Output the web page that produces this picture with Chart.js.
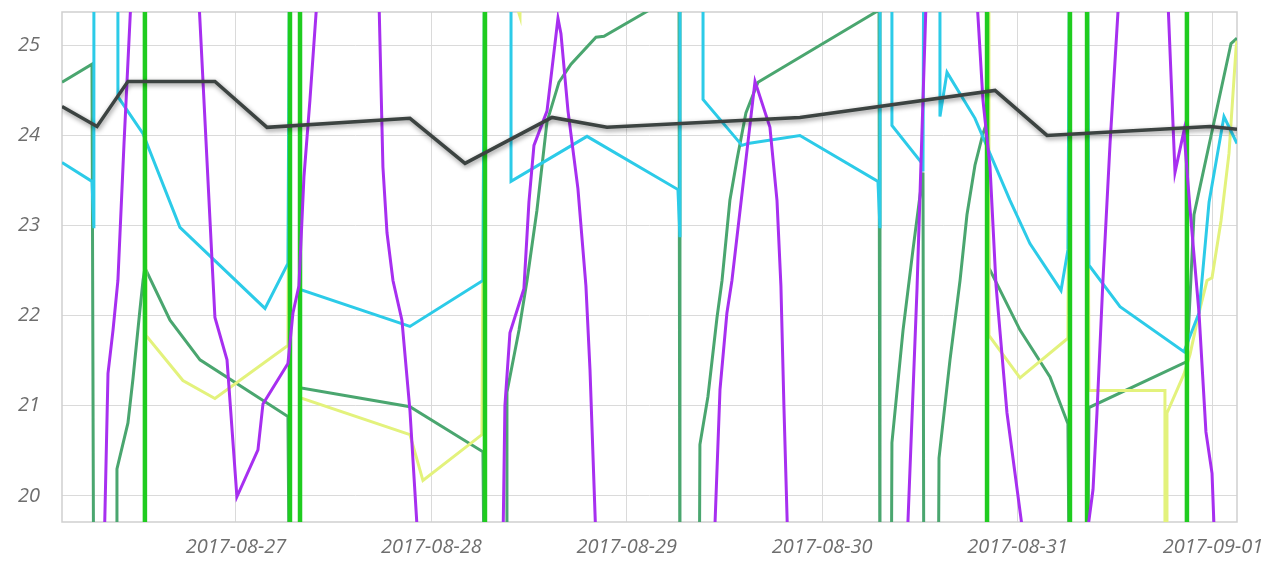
<!DOCTYPE html>
<html>
<head>
<meta charset="utf-8">
<script src="https://cdn.jsdelivr.net/npm/chart.js@4.4.0/dist/chart.umd.min.js"></script>
<style>
  html, body { margin: 0; padding: 0; background: #fff; }
  #wrap { width: 1280px; height: 565px; }
</style>
</head>
<body>
<div id="wrap"><canvas id="chart" width="1280" height="565"></canvas></div>
<script>
// ===== 時間範圍 / 軸刻度 =====
const xStart = '08-26 02:38';
const xEnd   = '09-01 02:57';
const xTickDays = ['08-27 00:00','08-28 00:00','08-29 00:00','08-30 00:00','08-31 00:00','09-01 00:00'];
const yMin = 19.71;
const yMax = 25.37;

// ===== 灰線（主溫度）=====
const grayTimes  = ['08-26 02:38','08-26 06:56','08-26 10:44','08-26 21:25','08-27 03:49','08-27 21:22','08-28 04:08','08-28 14:49','08-28 21:34','08-29 21:16','08-30 21:14','08-31 03:37','08-31 23:38','09-01 02:57'];
const grayValues = [24.32,24.10,24.60,24.60,24.09,24.19,23.69,24.20,24.09,24.20,24.50,24.00,24.10,24.07];

// ===== 青色 =====
const cyanTimes  = ['08-26 02:38','08-26 06:19','08-26 06:33','08-26 06:33','08-26 09:30','08-26 09:30','08-26 12:35','08-26 17:07','08-27 03:34','08-27 06:23','08-27 06:38','08-27 07:52','08-27 07:52','08-27 21:22','08-28 06:20','08-28 06:35','08-28 09:47','08-28 09:47','08-28 19:07','08-29 06:17','08-29 06:32','08-29 06:32','08-29 09:22','08-29 09:22','08-29 14:09','08-29 14:53','08-29 21:16','08-30 06:51','08-30 07:06','08-30 07:06','08-30 08:34','08-30 08:34','08-30 12:16','08-30 12:23','08-30 12:30','08-30 14:28','08-30 14:28','08-30 15:20','08-30 18:46','08-30 23:04','08-31 01:31','08-31 05:20','08-31 06:11','08-31 06:26','08-31 08:32','08-31 08:46','08-31 12:35','08-31 20:26','08-31 22:17','08-31 23:31','09-01 01:21','09-01 02:57'];
const cyanValues = [23.70,23.49,22.97,27,27,24.43,24.02,22.98,22.08,22.58,27,27,22.29,21.88,22.39,27,27,23.49,23.99,23.40,22.87,27,27,24.40,23.89,23.91,24.00,23.49,22.97,27,27,24.11,23.69,23.60,27,27,24.21,24.70,24.19,23.28,22.80,22.28,22.73,27,27,22.56,22.10,21.60,22.03,23.26,24.21,23.91];

// ===== 深綠 =====
const greenTimes  = ['08-26 02:38','08-26 06:19','08-26 06:33','08-26 09:23','08-26 09:23','08-26 10:44','08-26 11:21','08-26 12:12','08-26 12:35','08-26 12:49','08-26 15:54','08-26 19:35','08-27 06:23','08-27 06:38','08-27 07:52','08-27 07:52','08-27 21:22','08-28 06:20','08-28 06:35','08-28 09:17','08-28 09:17','08-28 10:46','08-28 11:45','08-28 12:58','08-28 14:12','08-28 15:40','08-28 17:09','08-28 20:13','08-28 21:12','08-29 01:59','08-29 06:25','08-29 06:32','08-29 08:52','08-29 08:59','08-29 09:58','08-29 11:05','08-29 11:42','08-29 12:40','08-29 13:32','08-29 14:38','08-29 16:07','08-30 06:14','08-30 06:59','08-30 07:06','08-30 08:27','08-30 08:34','08-30 09:56','08-30 11:09','08-30 12:23','08-30 12:30','08-30 14:13','08-30 14:21','08-30 15:42','08-30 16:56','08-30 17:47','08-30 18:46','08-30 19:45','08-30 20:15','08-30 20:29','08-31 00:18','08-31 03:59','08-31 06:11','08-31 06:26','08-31 08:32','08-31 08:46','08-31 20:48','08-31 21:40','09-01 02:13','09-01 02:57'];
const greenValues = [24.59,24.79,18,18,20.30,20.81,21.30,22.06,22.39,22.53,21.95,21.51,20.88,18,18,21.20,20.99,20.49,18,18,21.15,21.84,22.39,23.17,24.15,24.59,24.79,25.09,25.10,25.35,25.59,18,18,20.57,21.10,21.98,22.39,23.28,23.73,24.25,24.59,25.35,25.39,18,18,20.59,21.84,22.73,23.59,18,18,20.42,21.51,22.39,23.12,23.67,24.02,24.15,22.53,21.84,21.32,20.80,18,18,20.98,21.49,23.12,25.02,25.08];

// ===== 亮綠（跳動，超出範圍）=====
const limeTimes  = ['08-26 02:38','08-26 12:49','08-26 12:49','08-27 06:38','08-27 06:38','08-27 07:52','08-27 07:52','08-28 06:35','08-28 06:35','08-30 20:15','08-30 20:15','08-31 06:26','08-31 06:26','08-31 08:32','08-31 08:32','08-31 20:48','08-31 20:48','09-01 02:57'];
const limeValues = [18,18,27,27,18,18,27,27,18,18,27,27,18,18,27,27,18,18];

// ===== 紫色 =====
const purpleTimes  = ['08-26 02:38','08-26 07:47','08-26 08:17','08-26 08:54','08-26 09:30','08-26 10:15','08-26 11:06','08-26 15:17','08-26 19:27','08-26 21:11','08-26 21:25','08-26 22:54','08-27 00:07','08-27 02:42','08-27 03:19','08-27 06:23','08-27 07:00','08-27 07:44','08-27 08:21','08-27 09:05','08-27 09:57','08-27 14:00','08-27 17:34','08-27 18:03','08-27 18:33','08-27 19:17','08-27 20:23','08-27 21:22','08-27 22:21','08-28 03:30','08-28 08:47','08-28 09:02','08-28 09:39','08-28 11:22','08-28 11:59','08-28 12:36','08-28 14:12','08-28 15:33','08-28 15:55','08-28 16:47','08-28 18:00','08-28 18:59','08-28 19:29','08-28 20:13','08-29 02:51','08-29 10:43','08-29 11:27','08-29 12:18','08-29 12:55','08-29 15:45','08-29 17:35','08-29 18:27','08-29 18:56','08-29 19:18','08-29 19:48','08-30 03:24','08-30 10:24','08-30 11:39','08-30 12:45','08-30 15:42','08-30 19:01','08-30 19:45','08-30 20:37','08-30 21:21','08-30 22:42','08-31 00:47','08-31 04:36','08-31 08:17','08-31 09:16','08-31 09:45','08-31 10:29','08-31 11:21','08-31 12:27','08-31 15:38','08-31 18:28','08-31 19:20','08-31 20:26','08-31 21:11','08-31 22:17','08-31 23:08','08-31 23:53','09-01 00:14','09-01 02:57'];
const purpleValues = [18,19.30,21.36,21.84,22.39,23.91,25.50,27,25.50,22.39,21.98,21.51,19.99,20.51,21.02,21.47,22.03,22.33,23.54,24.39,25.50,27,25.50,23.65,22.92,22.39,21.95,20.95,19.50,18,19.40,21.00,21.81,22.30,23.26,23.89,24.27,25.30,25.13,24.27,23.41,22.33,21.40,19.50,18,19.40,21.18,22.03,22.39,24.60,24.09,23.28,22.33,21.00,19.40,18,19.40,22.30,25.45,27,25.50,24.39,23.65,22.34,20.92,19.50,18,19.40,20.07,20.92,22.39,23.90,25.55,27,25.50,23.59,24.05,23.18,22.03,20.71,20.25,19.40,18];

// ===== 淡黃 =====
const yellowTimes  = ['08-26 02:38','08-26 12:49','08-26 12:57','08-26 17:29','08-26 21:25','08-27 06:23','08-27 06:38','08-27 07:52','08-27 07:52','08-27 21:22','08-27 22:58','08-28 06:13','08-28 06:35','08-28 10:16','08-28 10:53','08-28 11:00','08-30 20:29','08-30 20:29','08-31 00:18','08-31 06:11','08-31 06:26','08-31 08:32','08-31 08:46','08-31 18:06','08-31 18:06','08-31 18:14','08-31 18:21','08-31 20:26','08-31 21:11','08-31 22:17','08-31 23:16','08-31 23:53','09-01 00:59','09-01 01:58','09-01 02:50','09-01 02:57'];
const yellowValues = [27,27,21.78,21.28,21.08,21.67,27,27,21.09,20.68,20.17,20.68,27,25.50,25.32,27,27,21.78,21.31,21.75,27,27,21.17,21.17,15,15,20.92,21.35,21.57,22.03,22.39,22.42,23.05,23.80,24.97,25.05];

// ===== 工具 =====
function toMs(s) {
  const [md, hm] = s.split(' ');
  const [mo, d] = md.split('-').map(Number);
  const [h, mi] = hm.split(':').map(Number);
  return Date.UTC(2017, mo - 1, d, h, mi);
}
function pts(times, values) {
  return times.map((t, i) => ({ x: toMs(t), y: values[i] }));
}

// 灰線陰影
const shadowPlugin = {
  id: 'lineShadow',
  beforeDatasetDraw(chart, args) {
    const ds = chart.data.datasets[args.index];
    if (!ds.shadowColor) return;
    const ctx = chart.ctx;
    ctx.save();
    ctx.shadowColor = ds.shadowColor;
    ctx.shadowBlur = 5;
    ctx.shadowOffsetX = 1;
    ctx.shadowOffsetY = 2;
  },
  afterDatasetDraw(chart, args) {
    if (chart.data.datasets[args.index].shadowColor) chart.ctx.restore();
  }
};

// 外框
const framePlugin = {
  id: 'frame',
  beforeDatasetsDraw(chart) {
    const { ctx, chartArea: a } = chart;
    ctx.save();
    ctx.strokeStyle = '#cfcfcf';
    ctx.lineWidth = 1.5;
    ctx.strokeRect(a.left, a.top, a.right - a.left, a.bottom - a.top);
    ctx.restore();
  }
};

const tickFont = { family: "'Open Sans', sans-serif", size: 20, style: 'italic' };

new Chart(document.getElementById('chart'), {
  type: 'line',
  data: {
    datasets: [
      { data: pts(grayTimes, grayValues),     borderColor: '#3c4341', borderWidth: 3.5, order: 0, shadowColor: 'rgba(0,0,0,0.45)' },
      { data: pts(purpleTimes, purpleValues), borderColor: '#a72ff0', borderWidth: 3, order: 1 },
      { data: pts(limeTimes, limeValues),     borderColor: '#1fcc1f', borderWidth: 4.5, order: 2 },
      { data: pts(cyanTimes, cyanValues),     borderColor: '#2ccbe8', borderWidth: 3, order: 3 },
      { data: pts(yellowTimes, yellowValues), borderColor: '#e3f27c', borderWidth: 3, order: 4 },
      { data: pts(greenTimes, greenValues),   borderColor: '#4aa66f', borderWidth: 3, order: 5 }
    ]
  },
  options: {
    responsive: false,
    animation: false,
    events: [],
    layout: { padding: { top: 12, right: 43, left: 0, bottom: 0 } },
    elements: { point: { radius: 0 }, line: { tension: 0 } },
    datasets: { line: { clip: 0 } },
    plugins: { legend: { display: false }, tooltip: { enabled: false } },
    scales: {
      x: {
        type: 'linear',
        min: toMs(xStart),
        max: toMs(xEnd),
        afterBuildTicks(scale) { scale.ticks = xTickDays.map(t => ({ value: toMs(t) })); },
        afterFit(scale) { scale.height = 43; scale.paddingLeft = 0; scale.paddingRight = 0; },
        grid: { color: '#dadada', drawTicks: false },
        border: { display: false },
        ticks: {
          autoSkip: false,
          maxRotation: 0,
          padding: 13,
          color: '#6e6e6e',
          font: tickFont,
          callback: v => new Date(v).toISOString().slice(0, 10)
        }
      },
      y: {
        min: yMin,
        max: yMax,
        afterFit(scale) { scale.width = 62; scale.paddingTop = 0; scale.paddingBottom = 0; },
        grid: { color: '#dadada', drawTicks: false },
        border: { display: false },
        ticks: {
          stepSize: 1,
          includeBounds: false,
          padding: 22,
          color: '#6e6e6e',
          font: tickFont
        }
      }
    }
  },
  plugins: [shadowPlugin, framePlugin]
});
</script>
</body>
</html>
